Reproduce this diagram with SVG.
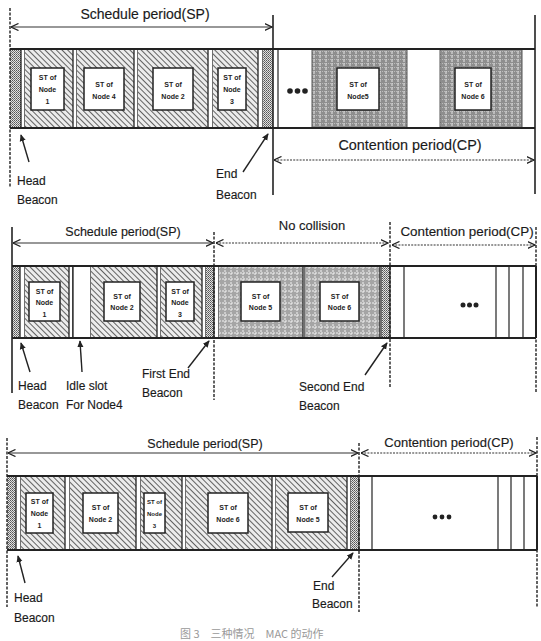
<svg xmlns="http://www.w3.org/2000/svg" width="541" height="641" viewBox="0 0 541 641">
<defs>
<pattern id="hatch" patternUnits="userSpaceOnUse" width="4" height="4" patternTransform="rotate(-45)">
<rect width="4" height="4" fill="#ececec"/>
<line x1="0" y1="0" x2="0" y2="4" stroke="#333" stroke-width="1.5"/>
</pattern>
<pattern id="dots" patternUnits="userSpaceOnUse" width="2" height="2">
<rect width="2" height="2" fill="#e0e0e0"/>
<rect width="1" height="1" fill="#555"/>
<rect x="1" y="1" width="1" height="1" fill="#777"/>
</pattern>
<pattern id="gray1" patternUnits="userSpaceOnUse" width="6" height="4">
<rect width="6" height="4" fill="#8e8e8e"/>
<line x1="2" y1="0" x2="2" y2="4" stroke="#f0f0f0" stroke-width="0.9" stroke-dasharray="2,1"/>
<line x1="0" y1="3.5" x2="6" y2="3.5" stroke="#d8d8d8" stroke-width="0.6" stroke-dasharray="1,1"/>
</pattern>
<pattern id="gray2" patternUnits="userSpaceOnUse" width="6" height="6">
<rect width="6" height="6" fill="#a5a5a5"/>
<line x1="3" y1="0" x2="3" y2="6" stroke="#f4f4f4" stroke-width="1" stroke-dasharray="2,1"/>
<line x1="0" y1="3" x2="6" y2="3" stroke="#f4f4f4" stroke-width="1" stroke-dasharray="2,1"/>
</pattern>
<marker id="chev" viewBox="0 0 8 8" refX="7.5" refY="4" markerWidth="8" markerHeight="8" markerUnits="userSpaceOnUse" orient="auto-start-reverse">
<path d="M0,0.5 L7.5,4 L0,7.5" fill="none" stroke="#222" stroke-width="1.3"/>
</marker>
<marker id="tri" viewBox="0 0 8 8" refX="7" refY="4" markerWidth="7" markerHeight="7" markerUnits="userSpaceOnUse" orient="auto">
<path d="M0,0.5 L8,4 L0,7.5 Z" fill="#222"/>
</marker>
</defs>
<style>
.bar{fill:none;stroke:#222;stroke-width:2}
.div{fill:#fff;stroke:#222;stroke-width:1.3}
.box{fill:#fff;stroke:#222;stroke-width:1.5}
.vl{stroke:#222;stroke-width:1.6;fill:none}
.vd{stroke:#222;stroke-width:1.4;fill:none;stroke-dasharray:3,1.5}
.thin{stroke:#222;stroke-width:1.2}
.per{stroke:#333;stroke-width:1.2;fill:none;marker-start:url(#chev);marker-end:url(#chev)}
.dot{stroke-dasharray:2,1.2}
.lab{stroke:#222;stroke-width:1.4;marker-end:url(#tri)}
.st{font-family:"Liberation Sans",Arial,sans-serif;font-size:7px;font-weight:bold;fill:#222;text-anchor:middle}
.sm{font-size:6px}
.t{font-family:"Liberation Sans",Arial,sans-serif;font-size:12px;fill:#1a1a1a;stroke:#1a1a1a;stroke-width:0.15}
.ti{font-family:"Liberation Sans",Arial,sans-serif;fill:#1a1a1a;text-anchor:middle;stroke:#1a1a1a;stroke-width:0.15}
.cap{font-family:"Noto Sans CJK SC","Liberation Sans",sans-serif;font-size:11px;fill:#999}
</style>

<!-- ================= Section 1 ================= -->
<g id="sec1">
<rect x="10" y="49" width="11" height="79" fill="url(#dots)"/>
<rect x="21" y="49" width="4" height="79" class="div"/>
<rect x="25" y="49" width="48" height="79" fill="url(#hatch)"/>
<rect x="73" y="49" width="4" height="79" class="div"/>
<rect x="77" y="49" width="57" height="79" fill="url(#hatch)"/>
<rect x="134" y="49" width="4" height="79" class="div"/>
<rect x="138" y="49" width="70" height="79" fill="url(#hatch)"/>
<rect x="208" y="49" width="5" height="79" class="div"/>
<rect x="213" y="49" width="45" height="79" fill="url(#hatch)"/>
<rect x="258" y="49" width="5" height="79" class="div"/>
<rect x="263" y="49" width="10" height="79" fill="url(#dots)"/>
<rect x="312" y="49" width="95" height="79" fill="url(#gray1)"/>
<rect x="440" y="49" width="82" height="79" fill="url(#gray1)"/>
<line x1="278" y1="49" x2="278" y2="128" class="thin"/>
<line x1="312" y1="49" x2="312" y2="128" stroke="#555" stroke-width="1"/>
<line x1="407" y1="49" x2="407" y2="128" stroke="#555" stroke-width="1"/>
<line x1="440" y1="49" x2="440" y2="128" stroke="#555" stroke-width="1"/>
<line x1="522" y1="49" x2="522" y2="128" stroke="#555" stroke-width="1"/>
<path d="M10,49 H535 M10,128 H535" class="bar"/>
<circle cx="290" cy="91" r="2.8" fill="#222"/><circle cx="297.5" cy="91" r="2.8" fill="#222"/><circle cx="305" cy="91" r="2.8" fill="#222"/>
</g>
<g id="s1-node1"><rect x="31" y="68" width="33" height="42" class="box"/><text class="st" x="47.5" y="80">ST of</text><text class="st" x="47.5" y="92">Node</text><text class="st" x="47.5" y="104">1</text></g>
<g id="s1-node4"><rect x="84" y="68" width="40" height="42" class="box"/><text class="st" x="104" y="87">ST of</text><text class="st" x="104" y="99">Node 4</text></g>
<g id="s1-node2"><rect x="153" y="68" width="40" height="42" class="box"/><text class="st" x="173" y="87">ST of</text><text class="st" x="173" y="99">Node 2</text></g>
<g id="s1-node3"><rect x="218" y="68" width="28" height="42" class="box"/><text class="st" x="232" y="80">ST of</text><text class="st" x="232" y="92">Node</text><text class="st" x="232" y="104">3</text></g>
<g id="s1-node5"><rect x="337" y="68" width="42" height="42" class="box"/><text class="st" x="358" y="87">ST of</text><text class="st" x="358" y="99">Node5</text></g>
<g id="s1-node6"><rect x="455" y="68" width="36" height="42" class="box"/><text class="st" x="473" y="87">ST of</text><text class="st" x="473" y="99">Node 6</text></g>
<g id="s1-labels">
<text class="ti" x="145" y="19" font-size="14">Schedule period(SP)</text>
<text class="ti" x="410" y="150" font-size="14.4">Contention period(CP)</text>
<text class="t" x="17" y="185">Head</text>
<text class="t" x="17" y="204">Beacon</text>
<text class="t" x="216" y="178">End</text>
<text class="t" x="216" y="199">Beacon</text>
</g>

<!-- ================= Section 2 ================= -->
<g id="sec2">
<rect x="12" y="266" width="8" height="72" fill="url(#dots)"/>
<rect x="20" y="266" width="5" height="72" class="div"/>
<rect x="25" y="266" width="44" height="72" fill="url(#hatch)"/>
<rect x="69" y="266" width="4" height="72" class="div"/>
<rect x="73" y="266" width="18" height="72" class="div"/>
<rect x="91" y="266" width="66" height="72" fill="url(#hatch)"/>
<rect x="157" y="266" width="4" height="72" class="div"/>
<rect x="161" y="266" width="41" height="72" fill="url(#hatch)"/>
<rect x="202" y="266" width="4" height="72" class="div"/>
<rect x="206" y="266" width="8" height="72" fill="url(#dots)"/>
<rect x="214" y="266" width="5" height="72" class="div"/>
<rect x="219" y="266" width="84" height="72" fill="url(#gray2)"/>
<rect x="303" y="266" width="2" height="72" class="div"/>
<rect x="305" y="266" width="75" height="72" fill="url(#gray2)"/>
<rect x="380" y="266" width="2" height="72" class="div"/>
<rect x="382" y="266" width="8" height="72" fill="url(#dots)"/>
<line x1="404" y1="266" x2="404" y2="338" class="thin"/>
<line x1="496" y1="266" x2="496" y2="338" class="thin"/>
<line x1="509" y1="266" x2="509" y2="338" class="thin"/>
<line x1="523" y1="266" x2="523" y2="338" class="thin"/>
<line x1="390" y1="266" x2="390" y2="338" class="thin"/>
<path d="M12,266 H536 M12,338 H536 M536,266 V338" class="bar"/>
<circle cx="463" cy="305" r="2.5" fill="#222"/><circle cx="469.5" cy="305" r="2.5" fill="#222"/><circle cx="476" cy="305" r="2.5" fill="#222"/>
</g>
<g id="s2-node1"><rect x="29" y="282" width="31" height="39" class="box"/><text class="st" x="44.5" y="294">ST of</text><text class="st" x="44.5" y="305">Node</text><text class="st" x="44.5" y="317">1</text></g>
<g id="s2-node2"><rect x="104" y="282" width="36" height="39" class="box"/><text class="st" x="122" y="299">ST of</text><text class="st" x="122" y="310">Node 2</text></g>
<g id="s2-node3"><rect x="166" y="282" width="28" height="39" class="box"/><text class="st" x="180" y="294">ST of</text><text class="st" x="180" y="305">Node</text><text class="st" x="180" y="317">3</text></g>
<g id="s2-node5"><rect x="241" y="282" width="39" height="39" class="box"/><text class="st" x="260.5" y="299">ST of</text><text class="st" x="260.5" y="310">Node 5</text></g>
<g id="s2-node6"><rect x="320" y="282" width="39" height="39" class="box"/><text class="st" x="339.5" y="299">ST of</text><text class="st" x="339.5" y="310">Node 6</text></g>
<g id="s2-labels">
<text class="ti" x="123" y="236" font-size="12.5">Schedule period(SP)</text>
<text class="ti" x="312" y="230" font-size="13">No collision</text>
<text class="ti" x="467" y="236" font-size="13.4">Contention period(CP)</text>
<text class="t" x="18" y="390">Head</text>
<text class="t" x="18" y="409">Beacon</text>
<text class="t" x="66" y="390">Idle slot</text>
<text class="t" x="66" y="409">For Node4</text>
<text class="t" x="142" y="378">First End</text>
<text class="t" x="142" y="397">Beacon</text>
<text class="t" x="299" y="391">Second End</text>
<text class="t" x="299" y="410">Beacon</text>
</g>

<!-- ================= Section 3 ================= -->
<g id="sec3">
<rect x="7" y="476" width="9" height="74" fill="url(#dots)"/>
<rect x="16" y="476" width="5" height="74" class="div"/>
<rect x="21" y="476" width="44" height="74" fill="url(#hatch)"/>
<rect x="65" y="476" width="5" height="74" class="div"/>
<rect x="70" y="476" width="66" height="74" fill="url(#hatch)"/>
<rect x="136" y="476" width="5" height="74" class="div"/>
<rect x="141" y="476" width="41" height="74" fill="url(#hatch)"/>
<rect x="182" y="476" width="4" height="74" class="div"/>
<rect x="186" y="476" width="86" height="74" fill="url(#hatch)"/>
<rect x="272" y="476" width="4" height="74" class="div"/>
<rect x="276" y="476" width="71" height="74" fill="url(#hatch)"/>
<rect x="347" y="476" width="4" height="74" class="div"/>
<rect x="351" y="476" width="8" height="74" fill="url(#dots)"/>
<line x1="359" y1="476" x2="359" y2="550" class="thin"/>
<line x1="372" y1="476" x2="372" y2="550" class="thin"/>
<line x1="498" y1="476" x2="498" y2="550" class="thin"/>
<line x1="511" y1="476" x2="511" y2="550" class="thin"/>
<line x1="524" y1="476" x2="524" y2="550" class="thin"/>
<path d="M7,476 H537 M7,550 H537 M537,476 V550" class="bar"/>
<circle cx="435" cy="517" r="2.4" fill="#222"/><circle cx="442" cy="517" r="2.4" fill="#222"/><circle cx="449" cy="517" r="2.4" fill="#222"/>
</g>
<g id="s3-node1"><rect x="26" y="493" width="27" height="40" class="box"/><text class="st" x="39.5" y="504">ST of</text><text class="st" x="39.5" y="516">Node</text><text class="st" x="39.5" y="528">1</text></g>
<g id="s3-node2"><rect x="83" y="493" width="35" height="40" class="box"/><text class="st" x="100.5" y="510">ST of</text><text class="st" x="100.5" y="522">Node 2</text></g>
<g id="s3-node3"><rect x="144" y="493" width="21" height="40" class="box"/><text class="st sm" x="154.5" y="504">ST of</text><text class="st sm" x="154.5" y="516">Node</text><text class="st sm" x="154.5" y="528">3</text></g>
<g id="s3-node6"><rect x="208" y="493" width="40" height="40" class="box"/><text class="st" x="228" y="510">ST of</text><text class="st" x="228" y="522">Node 6</text></g>
<g id="s3-node5"><rect x="288" y="493" width="40" height="39" class="box"/><text class="st" x="308" y="510">ST of</text><text class="st" x="308" y="522">Node 5</text></g>
<g id="s3-labels">
<text class="ti" x="205" y="448" font-size="12.5">Schedule period(SP)</text>
<text class="ti" x="449" y="447" font-size="13">Contention period(CP)</text>
<text class="t" x="14" y="602">Head</text>
<text class="t" x="14" y="622">Beacon</text>
<text class="t" x="313" y="590">End</text>
<text class="t" x="312" y="608">Beacon</text>
</g>

<!-- ================= Connectors ================= -->
<g id="connectors">
<line x1="10" y1="8" x2="10" y2="187" class="vd"/>
<line x1="273" y1="15" x2="273" y2="195" class="vl"/>
<line x1="535" y1="15" x2="535" y2="194" class="vl"/>
<line x1="12" y1="227" x2="12" y2="393" class="vl"/>
<line x1="214" y1="232" x2="214" y2="400" class="vd"/>
<line x1="390" y1="222" x2="390" y2="388" class="vd"/>
<line x1="536" y1="227" x2="536" y2="393" class="vd"/>
<line x1="7" y1="438" x2="7" y2="607" class="vd"/>
<line x1="359" y1="443" x2="359" y2="612" class="vd"/>
<line x1="537" y1="437" x2="537" y2="607" class="vd"/>
<line x1="11" y1="27" x2="272" y2="27" class="per"/>
<line x1="274" y1="160" x2="534" y2="160" class="per dot"/>
<line x1="13" y1="243" x2="213" y2="243" class="per"/>
<line x1="216" y1="243" x2="388" y2="243" class="per dot"/>
<line x1="392" y1="245" x2="535" y2="245" class="per dot"/>
<line x1="8" y1="453" x2="358" y2="453" class="per"/>
<line x1="361" y1="453" x2="536" y2="453" class="per dot"/>
<line x1="29" y1="162" x2="21" y2="135" class="lab"/>
<line x1="243" y1="172" x2="268" y2="134" class="lab"/>
<line x1="30" y1="372" x2="21" y2="343" class="lab"/>
<line x1="82" y1="372" x2="80" y2="341" class="lab"/>
<line x1="188" y1="368" x2="209" y2="341" class="lab"/>
<line x1="365" y1="375" x2="387" y2="343" class="lab"/>
<line x1="25" y1="583" x2="18" y2="556" class="lab"/>
<line x1="332" y1="577" x2="353" y2="553" class="lab"/>
</g>

<text class="cap" x="180" y="638">图 3　三种情况　MAC 的动作</text>
</svg>
